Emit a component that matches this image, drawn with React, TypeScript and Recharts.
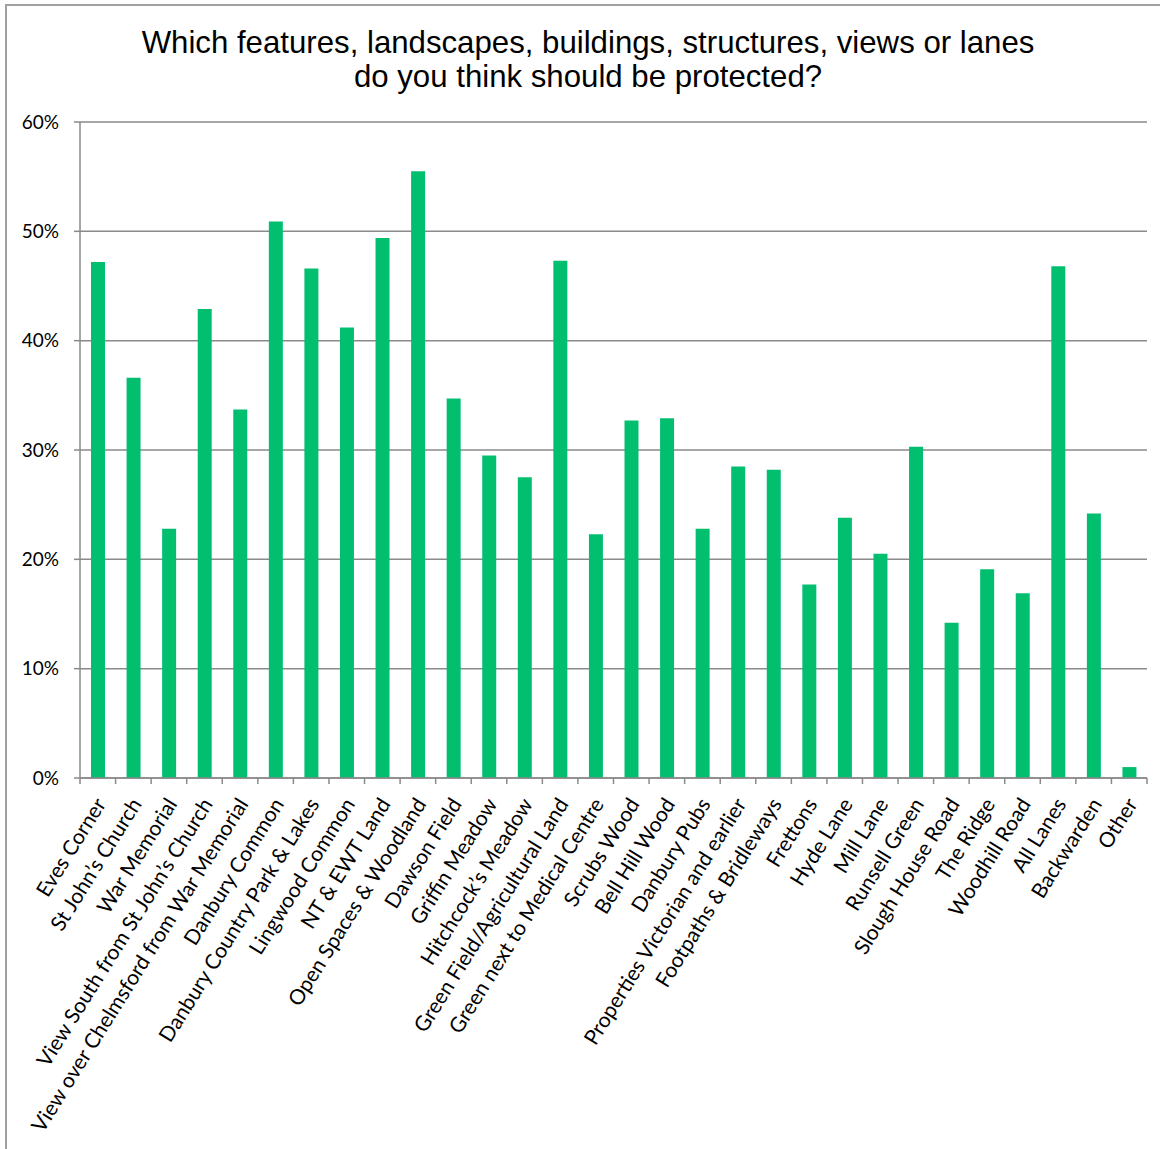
import React from "react";
import { BarChart, Bar, XAxis, YAxis, CartesianGrid } from "recharts";

const categories: string[] = [
  "Eves Corner",
  "St John\u2019s Church",
  "War Memorial",
  "View South from St John\u2019s Church",
  "View over Chelmsford from War Memorial",
  "Danbury Common",
  "Danbury Country Park & Lakes",
  "Lingwood Common",
  "NT & EWT Land",
  "Open Spaces & Woodland",
  "Dawson Field",
  "Griffin Meadow",
  "Hitchcock\u2019s Meadow",
  "Green Field/Agricultural Land",
  "Green next to Medical Centre",
  "Scrubs Wood",
  "Bell Hill Wood",
  "Danbury Pubs",
  "Properties Victorian and earlier",
  "Footpaths & Bridleways",
  "Frettons",
  "Hyde Lane",
  "Mill Lane",
  "Runsell Green",
  "Slough House Road",
  "The Ridge",
  "Woodhill Road",
  "All Lanes",
  "Backwarden",
  "Other",
];

const percentages: number[] = [
  47.2, 36.6, 22.8, 42.9, 33.7, 50.9, 46.6, 41.2, 49.4, 55.5,
  34.7, 29.5, 27.5, 47.3, 22.3, 32.7, 32.9, 22.8, 28.5, 28.2,
  17.7, 23.8, 20.5, 30.3, 14.2, 19.1, 16.9, 46.8, 24.2, 1.0,
];

const yTicks: number[] = [0, 10, 20, 30, 40, 50, 60];

const titleLines: string[] = [
  "Which features, landscapes, buildings, structures, views or lanes",
  "do you think should be protected?",
];

const data = categories.map((name, i) => ({ name, value: percentages[i] }));

const W = 1160;
const H = 1149;
const PLOT_LEFT = 80;
const PLOT_RIGHT = 1147;
const BAND = (PLOT_RIGHT - PLOT_LEFT) / categories.length;
const AXIS_COLOR = "#8a8a8a";
const LABEL_FONT = "Lato, 'Open Sans', sans-serif";

const XTick = (props: any) => {
  const { x, y, payload, index } = props;
  const last = index === categories.length - 1;
  const axisY = y - 8;
  return (
    <g>
      <line x1={x - BAND / 2} x2={x - BAND / 2} y1={axisY} y2={axisY + 6} stroke={AXIS_COLOR} strokeWidth={1.5} />
      {last && (
        <line x1={x + BAND / 2} x2={x + BAND / 2} y1={axisY} y2={axisY + 6} stroke={AXIS_COLOR} strokeWidth={1.5} />
      )}
      <text
        x={0}
        y={0}
        transform={`translate(${x + 9}, ${axisY + 26}) rotate(-58)`}
        textAnchor="end"
        fontSize={21}
        fontFamily={LABEL_FONT}
        fill="#000"
      >
        {payload.value}
      </text>
    </g>
  );
};

export default function App() {
  return (
    <div
      style={{
        position: "absolute",
        left: 0,
        top: 0,
        width: W,
        height: H,
        overflow: "hidden",
        background: "#fff",
      }}
    >
      <div
        style={{
          position: "absolute",
          left: 5,
          top: 4,
          width: 1300,
          height: 1300,
          border: "2px solid #a0a0a0",
          boxSizing: "border-box",
        }}
      />
      <div
        style={{
          position: "absolute",
          left: 0,
          top: 26,
          width: 1176,
          textAlign: "center",
          fontFamily: "'Liberation Sans', Arial, sans-serif",
          fontSize: 31.2,
          lineHeight: "34px",
          color: "#000",
        }}
      >
        {titleLines.map((t) => (
          <div key={t}>{t}</div>
        ))}
      </div>
      <div style={{ position: "absolute", left: 0, top: 0 }}>
        <BarChart
          width={W}
          height={H}
          data={data}
          margin={{ top: 122, right: W - PLOT_RIGHT, left: 0, bottom: H - 778 - 30 }}
        >
          <CartesianGrid vertical={false} stroke={AXIS_COLOR} strokeWidth={1.5} />
          <YAxis
            width={PLOT_LEFT}
            domain={[0, 60]}
            ticks={yTicks}
            interval={0}
            tickFormatter={(v: number) => `${v}%`}
            axisLine={{ stroke: AXIS_COLOR, strokeWidth: 1.5 }}
            tickLine={{ stroke: AXIS_COLOR, strokeWidth: 1.5 }}
            tickSize={6}
            tickMargin={15}
            tick={{ fontSize: 19, fontFamily: LABEL_FONT, fill: "#000" }}
          />
          <XAxis
            dataKey="name"
            interval={0}
            height={30}
            axisLine={{ stroke: AXIS_COLOR, strokeWidth: 1.5 }}
            tickLine={false}
            tickSize={0}
            tickMargin={8}
            tick={<XTick />}
          />
          <Bar dataKey="value" fill="#02BF70" barSize={14} isAnimationActive={false} />
        </BarChart>
      </div>
    </div>
  );
}
